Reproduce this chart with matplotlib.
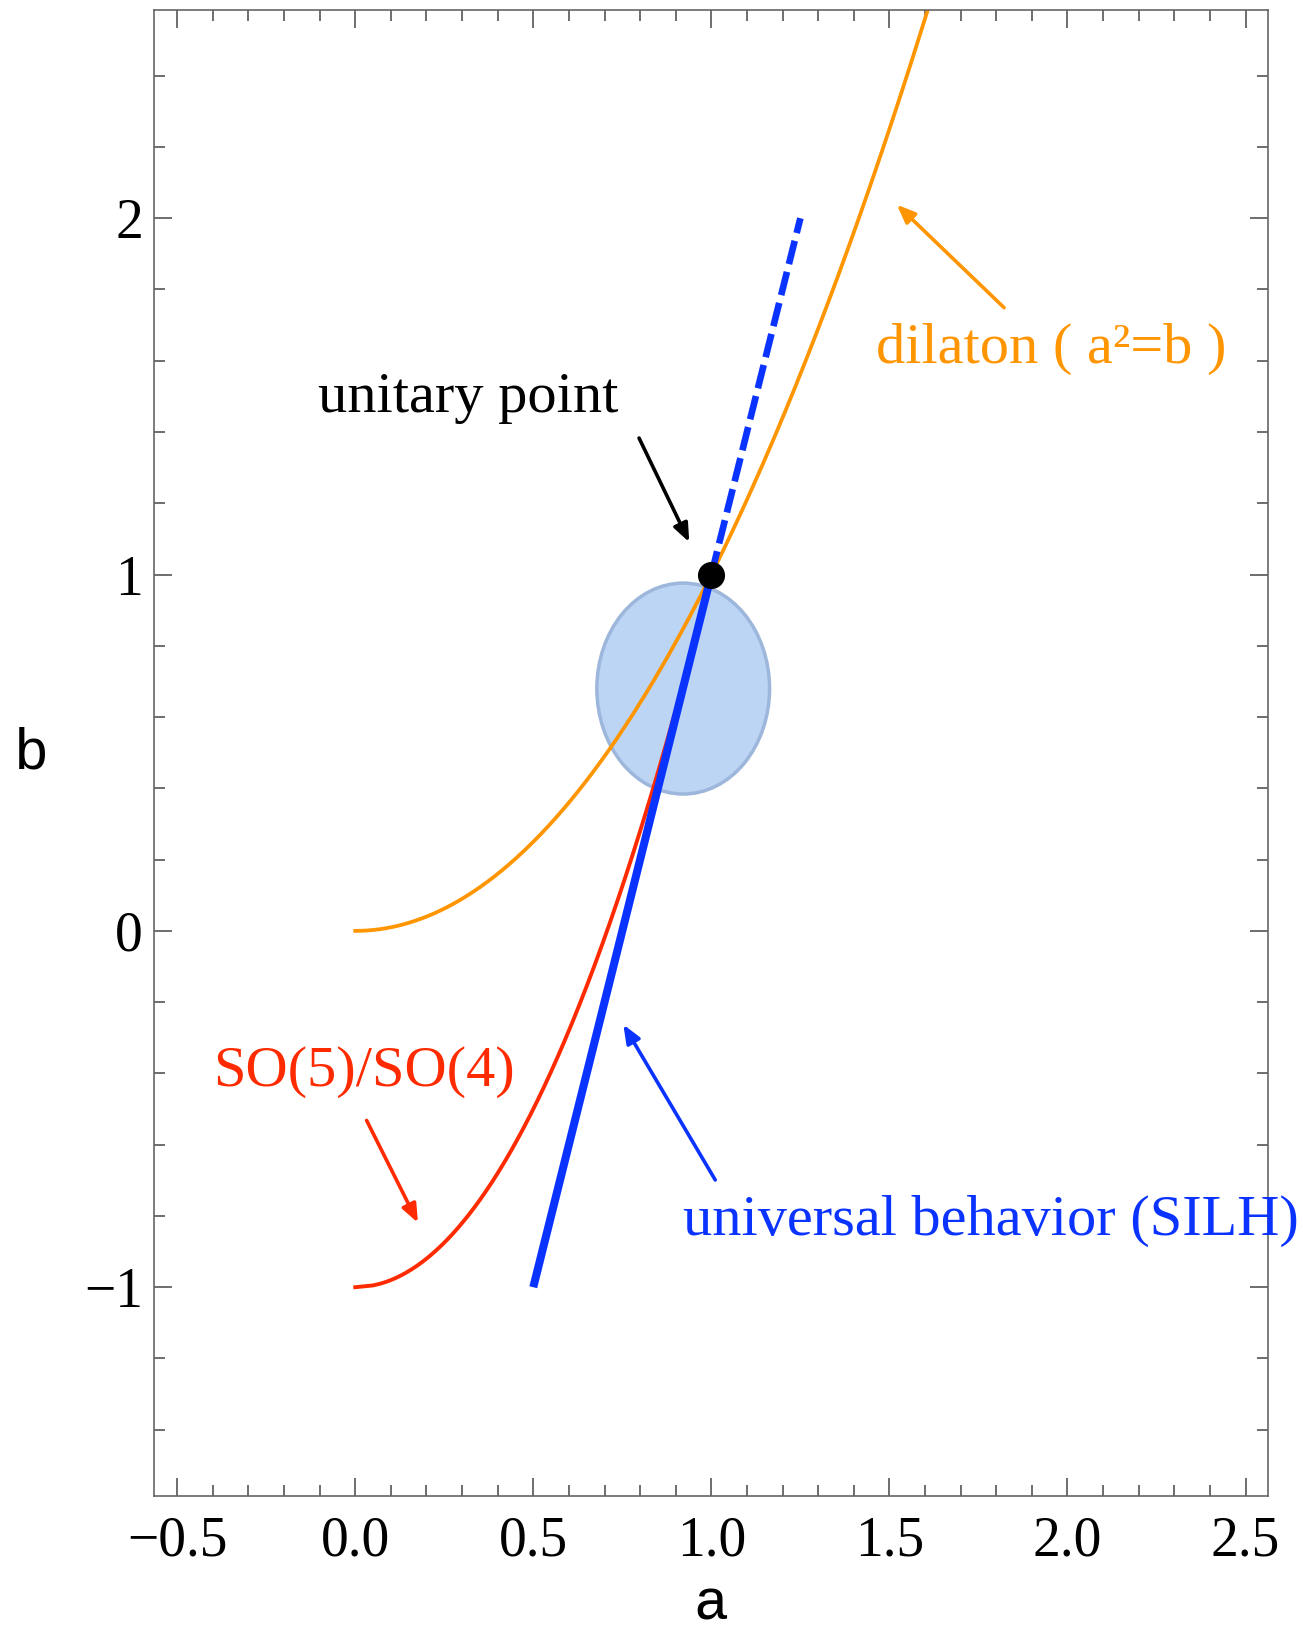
import numpy as np
import matplotlib.pyplot as plt
from matplotlib.patches import Ellipse
from matplotlib.ticker import MultipleLocator

# couplings: a = hVV / hVV_SM, b = hhVV / hhVV_SM
xi = np.linspace(0.0, 1.0, 400)

# dilaton: b = a^2
dil_a = np.linspace(0.0, 1.7, 400)
dil_b = dil_a ** 2

# SO(5)/SO(4): a = sqrt(1 - xi), b = 1 - 2 xi
so_a = np.sqrt(1.0 - xi)
so_b = 1.0 - 2.0 * xi

# SILH universal behaviour: a = 1 - xi/2, b = 1 - 2 xi
silh_a = 1.0 - xi / 2.0
silh_b = 1.0 - 2.0 * xi
# continuation past the unitary point (dashed)
silh_ext_a = [1.0, 1.25]
silh_ext_b = [1.0, 2.0]

unitary = (1.0, 1.0)

# fit region
ell_center = (0.921, 0.680)
ell_width = 0.485
ell_height = 0.592

ORANGE = "#ff9500"
RED = "#ff2b00"
BLUE = "#0a33ff"

serif = ["Liberation Serif", "DejaVu Serif"]
mono = ["Liberation Mono", "DejaVu Sans Mono"]

fig = plt.figure(figsize=(13.03, 16.35), dpi=100)
ax = fig.add_axes([0.1182, 0.0850, 0.8549, 0.9086])

ax.add_patch(Ellipse(ell_center, ell_width, ell_height, facecolor="#bcd5f5",
                     edgecolor="#9db6db", lw=2.5, zorder=1))

ax.plot(dil_a, dil_b, color=ORANGE, lw=2.7, zorder=2)
ax.plot(so_a, so_b, color=RED, lw=2.8, zorder=2)
ax.plot(silh_a, silh_b, color=BLUE, lw=5.8, solid_capstyle="butt", zorder=3)
ax.plot(silh_ext_a, silh_ext_b, color=BLUE, lw=4.8, dashes=(3.6, 1.2),
        dash_capstyle="butt", zorder=3)
ax.plot(*unitary, "o", color="black", ms=18.5, zorder=5)

ax.set_xlim(-0.565, 2.563)
ax.set_ylim(-1.586, 2.583)

ax.xaxis.set_major_locator(MultipleLocator(0.5))
ax.xaxis.set_minor_locator(MultipleLocator(0.1))
ax.yaxis.set_major_locator(MultipleLocator(1))
ax.yaxis.set_minor_locator(MultipleLocator(0.2))
ax.xaxis.set_major_formatter(plt.FuncFormatter(lambda v, p: f"{v:.1f}".replace("-", "\u2212")))
ax.yaxis.set_major_formatter(plt.FuncFormatter(lambda v, p: f"{v:.0f}".replace("-", "\u2212")))

ax.tick_params(which="both", direction="in", top=True, right=True,
               color="#555555", width=1.2)
ax.tick_params(which="major", length=13)
ax.tick_params(which="minor", length=8)
ax.tick_params(axis="x", pad=14)
ax.tick_params(axis="y", pad=8)
for lab in ax.get_xticklabels() + ax.get_yticklabels():
    lab.set_family(serif)
    lab.set_fontsize(40)
for s in ax.spines.values():
    s.set_color("#666666")
    s.set_linewidth(1.2)

ax.set_xlabel("a", family=mono, fontsize=42, labelpad=7)
ax.set_ylabel("b", family=mono, fontsize=42, rotation=0, labelpad=38, va="center")


def note(text, xy_text, tail, head, color):
    ax.text(*xy_text, text, color=color, family=serif, fontsize=42,
            ha="left", va="baseline", zorder=6)
    ax.annotate("", xy=head, xytext=tail,
                arrowprops=dict(arrowstyle="-|>,head_length=1.1,head_width=0.45",
                                color=color, lw=2.6, shrinkA=0, shrinkB=0),
                zorder=6)


note("unitary point", (-0.105, 1.456), (0.797, 1.383), (0.938, 1.091), "black")
note("dilaton ( a\u00b2=b )", (1.462, 1.594), (1.822, 1.749), (1.521, 2.038), ORANGE)
note("SO(5)/SO(4)", (-0.398, -0.436), (0.032, -0.532), (0.176, -0.819), RED)
note("universal behavior (SILH)", (0.92, -0.854), (1.011, -0.699), (0.753, -0.263), BLUE)

fig.savefig("out.png", dpi=100)
